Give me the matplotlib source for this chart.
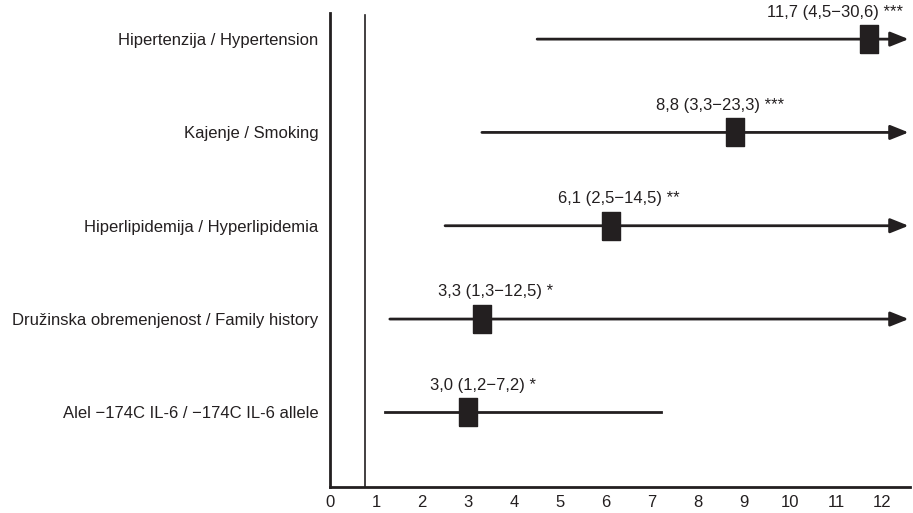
import numpy as np
import matplotlib.pyplot as plt

# podatki (razmerje obetov z 95 % IZ)
dejavniki = [
    "Hipertenzija / Hypertension",
    "Kajenje / Smoking",
    "Hiperlipidemija / Hyperlipidemia",
    "Družinska obremenjenost / Family history",
    "Alel \u2212174C IL-6 / \u2212174C IL-6 allele",
]
razmerje = [11.7, 8.8, 6.1, 3.3, 3.0]
iz_spodaj = [4.5, 3.3, 2.5, 1.3, 1.2]
iz_zgoraj = [30.6, 23.3, 14.5, 12.5, 7.2]
zvezdice = ["***", "***", "**", "*", "*"]
x_ticks = list(range(13))
ref_x = 0.76

# postavitev
x_max = 12.6
label_dx = [-24, -11, 6, 10, 11]
barva = "#231f20"

plt.rcParams["font.family"] = ["Liberation Sans", "DejaVu Sans"]

def fmt(v):
    return f"{v:.1f}".replace(".", ",")

fig = plt.figure(figsize=(9.13, 5.13), dpi=100)
ax = fig.add_axes([330 / 913, 26 / 513, 580 / 913, 474 / 513])

n = len(dejavniki)
y = np.arange(n, 0, -1)

sq = [(-9, -14), (9, -14), (9, 14), (-9, 14), (-9, -14)]

for i in range(n):
    if iz_zgoraj[i] > x_ticks[-1]:
        ax.annotate("", xy=(x_max - 0.03, y[i]), xytext=(iz_spodaj[i], y[i]),
                    arrowprops=dict(arrowstyle="-|>,head_length=0.55,head_width=0.22",
                                    lw=2, color=barva, mutation_scale=20,
                                    shrinkA=0, shrinkB=0))
    else:
        ax.plot([iz_spodaj[i], iz_zgoraj[i]], [y[i], y[i]], color=barva, lw=2)
    ax.plot(razmerje[i], y[i], marker=sq, markersize=20, color=barva, zorder=3)
    txt = f"{fmt(razmerje[i])} ({fmt(iz_spodaj[i])}\u2212{fmt(iz_zgoraj[i])}) {zvezdice[i]}"
    ax.annotate(txt, xy=(razmerje[i], y[i]), xytext=(label_dx[i], 19.5),
                textcoords="offset points", ha="center", va="center",
                fontsize=12, color=barva)

ax.axvline(ref_x, ymax=0.995, color=barva, lw=1.2)

ax.set_xlim(0, x_max)
ax.set_ylim(0.2, 5.28)
ax.set_xticks(x_ticks)
ax.set_xticklabels([str(t) for t in x_ticks])
ax.set_yticks(y)
ax.set_yticklabels(dejavniki)
ax.tick_params(axis="both", length=0, labelsize=12, colors=barva)
ax.tick_params(axis="y", pad=8.5)
ax.tick_params(axis="x", pad=6)

for s in ["top", "right"]:
    ax.spines[s].set_visible(False)
for s in ["left", "bottom"]:
    ax.spines[s].set_linewidth(2)
    ax.spines[s].set_color(barva)

fig.savefig("out.png", dpi=100)
